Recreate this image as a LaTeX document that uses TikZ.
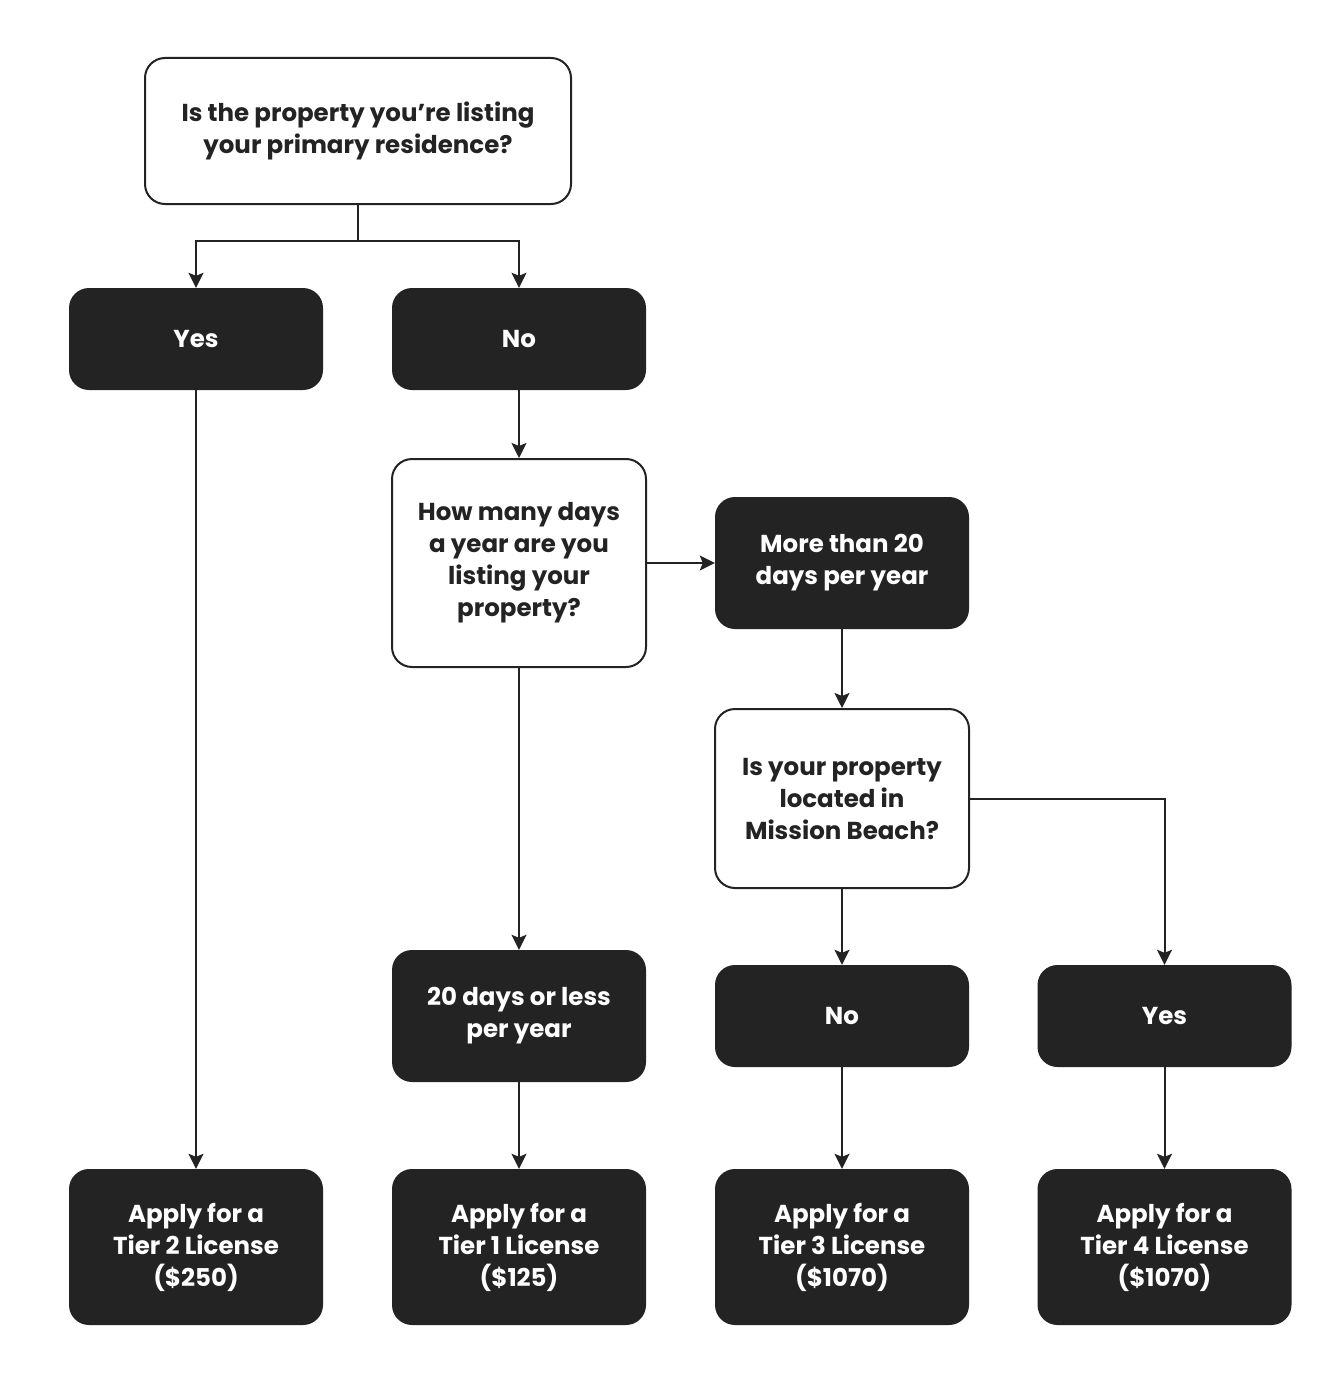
\documentclass[tikz,border=0pt]{standalone}
\usepackage{fontspec}
\setmainfont{Poppins}
\usetikzlibrary{arrows.meta}
\definecolor{boxdark}{HTML}{232323}
\tikzset{
	qbox/.style={draw=boxdark, line width=2pt, fill=white, rounded corners=20pt, align=center, text=boxdark, minimum width=254pt, font=\fontsize{24.5}{32}\selectfont\bfseries},
	abox/.style={fill=boxdark, rounded corners=20pt, align=center, text=white, minimum width=254pt, font=\fontsize{24.5}{32}\selectfont\bfseries},
	arr/.style={draw=boxdark, line width=2pt, -{Stealth[length=15pt, width=15pt, inset=3pt]}}
}

\begin{document}
\begin{tikzpicture}[x=1pt, y=-1pt]
		%%%%% START %%%%%
		\useasboundingbox[fill=white] (0, 0) rectangle (1340, 1399);
		
		\node[qbox, minimum width=426pt, minimum height=146pt] (q1) at (358, 131) {Is the property you’re listing\\your primary residence?};
		
		\node[abox, minimum height=102pt] (yes1) at (196, 339) {Yes};
		\node[abox, minimum height=102pt] (no1) at (519, 339) {No};
		
		\node[qbox, minimum height=208pt] (q2) at (519, 563) {How many days\\a year are you\\listing your\\property?};
		\node[abox, minimum height=132pt] (more) at (842, 563) {More than 20\\days per year};
		
		\node[qbox, minimum height=179pt] (q3) at (842, 798.5) {Is your property\\located in\\Mission Beach?};
		
		\node[abox, minimum height=132pt] (less) at (519, 1016) {20 days or less\\per year};
		\node[abox, minimum height=102pt] (no2) at (842, 1016) {No};
		\node[abox, minimum height=102pt] (yes2) at (1164.5, 1016) {Yes};
		
		\node[abox, minimum height=156pt] (tier2) at (196, 1247) {Apply for a\\Tier 2 License\\(\$250)};
		\node[abox, minimum height=156pt] (tier1) at (519, 1247) {Apply for a\\Tier 1 License\\(\$125)};
		\node[abox, minimum height=156pt] (tier3) at (842, 1247) {Apply for a\\Tier 3 License\\(\$1070)};
		\node[abox, minimum height=156pt] (tier4) at (1164.5, 1247) {Apply for a\\Tier 4 License\\(\$1070)};
		
		\draw[arr] (q1.south) -- ++(0, 36) -| (yes1.north);
		\draw[arr] (q1.south) -- ++(0, 36) -| (no1.north);
		\draw[arr] (no1) -- (q2);
		\draw[arr] (q2) -- (more);
		\draw[arr] (q2) -- (less);
		\draw[arr] (more) -- (q3);
		\draw[arr] (q3) -- (no2);
		\draw[arr] (q3.east) -| (yes2.north);
		
		\draw[arr] (yes1) -- (tier2);
		\draw[arr] (less) -- (tier1);
		\draw[arr] (no2) -- (tier3);
		\draw[arr] (yes2) -- (tier4);
		%%%%% END %%%%%
	\end{tikzpicture}
\end{document}
